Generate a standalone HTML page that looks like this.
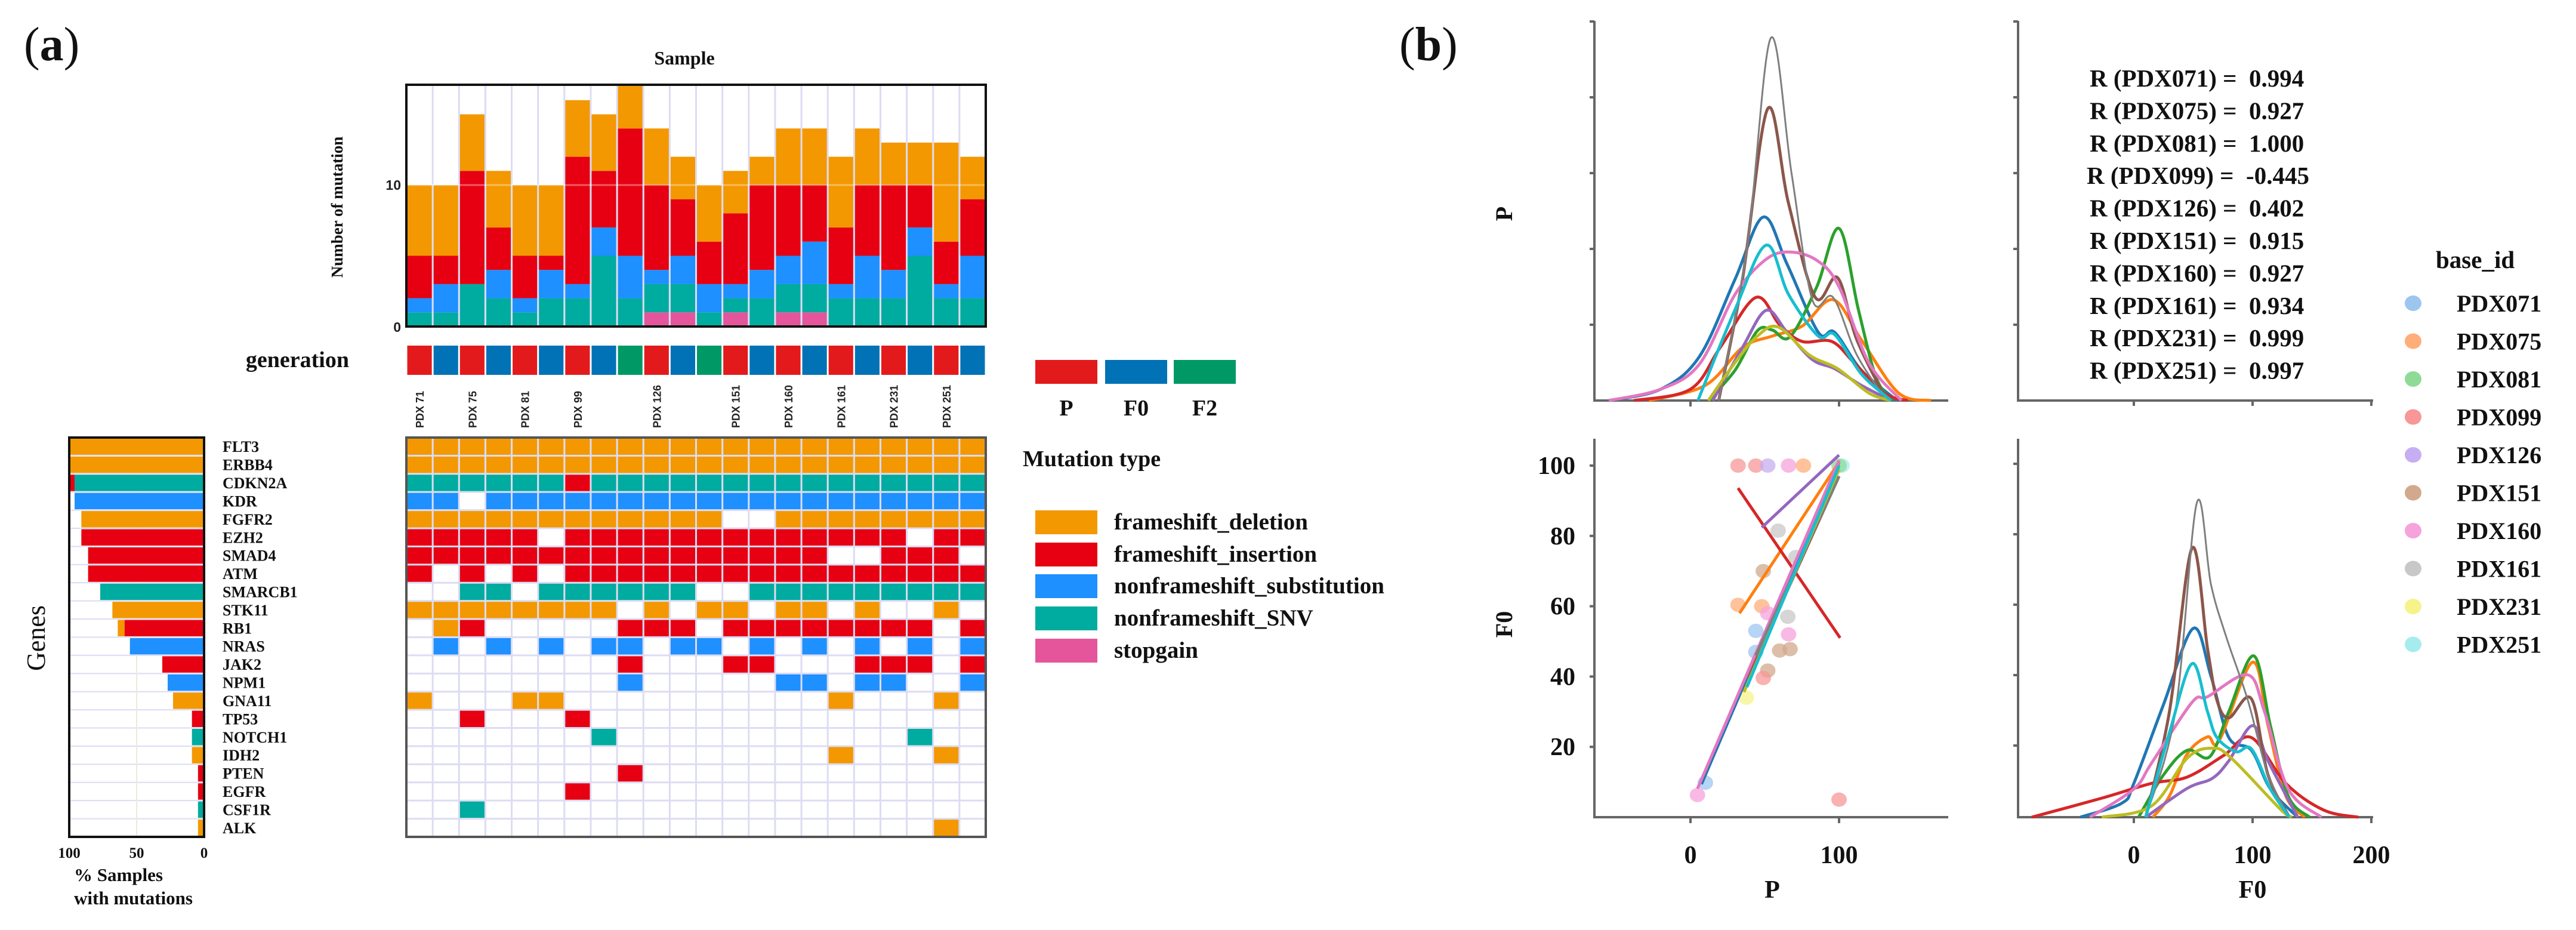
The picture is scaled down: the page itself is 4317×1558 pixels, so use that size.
<!DOCTYPE html>
<html><head><meta charset="utf-8"><style>
html,body{margin:0;padding:0;background:#fff;}
svg{display:block;}
.serif{font-family:"Liberation Serif",serif;font-weight:bold;fill:#111;}
.sans{font-family:"Liberation Sans",sans-serif;font-weight:bold;fill:#222;}
</style></head><body>
<svg id="fig" width="4317" height="1558" viewBox="0 0 4317 1558" xmlns="http://www.w3.org/2000/svg">
<rect x="0" y="0" width="4317" height="1558" fill="#fff"/>
<text x="40" y="101" class="serif" style="font-weight:normal" font-size="80">(<tspan font-weight="bold">a</tspan>)</text>
<text x="2345" y="101" class="serif" style="font-weight:normal" font-size="80">(<tspan font-weight="bold">b</tspan>)</text>
<text x="1147" y="108" class="serif" font-size="32" text-anchor="middle">Sample</text>
<text transform="translate(574,347) rotate(-90)" class="serif" font-size="27" text-anchor="middle">Number of mutation</text>
<text x="672" y="318" class="sans" font-size="23" text-anchor="end">10</text>
<text x="672" y="556" class="sans" font-size="23" text-anchor="end">0</text>
<text x="585" y="615" class="serif" font-size="38" text-anchor="end">generation</text>
<text x="1714" y="781" class="serif" font-size="38">Mutation type</text>
<text transform="translate(75,1069) rotate(-90)" class="serif" font-size="44" text-anchor="middle" style="font-weight:normal">Genes</text>
<text x="124" y="1476" class="serif" font-size="31">% Samples</text>
<text x="124" y="1515" class="serif" font-size="31">with mutations</text>
<g id="gA"></g>
<g id="gB"></g>
</svg>
<script>
// ---------- Panel (a) data ----------
const samples = ["PDX 71","","PDX 75","","PDX 81","","PDX 99","","","PDX 126","","","PDX 151","","PDX 160","","PDX 161","","PDX 231","","PDX 251",""];
const barPink   = [0,0,0,0,0,0,0,0,0,1,1,0,1,0,1,1,0,0,0,0,0,0];
const barTeal   = [1,1,3,2,1,2,2,5,2,2,2,1,1,2,2,2,2,2,2,5,2,2];
const barBlue   = [1,2,0,2,1,2,1,2,3,1,2,2,1,2,2,3,1,3,2,2,1,3];
const barRed    = [3,2,8,3,3,1,9,4,9,6,4,3,5,6,5,4,4,5,6,3,3,4];
const barOrange = [5,5,4,4,5,5,4,4,3,4,3,4,3,2,4,4,5,4,3,3,7,3];
const generation = ["P","F0","P","F0","P","F0","P","F0","F2","P","F0","F2","P","F0","P","F0","P","F0","P","F0","P","F0"];
const genes = ["FLT3","ERBB4","CDKN2A","KDR","FGFR2","EZH2","SMAD4","ATM","SMARCB1","STK11","RB1","NRAS","JAK2","NPM1","GNA11","TP53","NOTCH1","IDH2","PTEN","EGFR","CSF1R","ALK"];
const matrix = [
"OOOOOOOOOOOOOOOOOOOOOO",
"OOOOOOOOOOOOOOOOOOOOOO",
"TTTTTTRTTTTTTTTTTTTTTT",
"BB.BBBBBBBBBBBBBBBBBBB",
"OOOOOOOOOOOO..OOOOOOOO",
"RRRRR.RRRRRRRRRRRRR.RR",
"RRRRRRRRRRRRRRRR..RRR.",
"R.R.R.RRRRRRRRRRRRRRRR",
"..TT.TTTTTT..TTTTTTTTT",
"OOOOOOOO.O.OO.OO.O..O.",
".OR.....RRR.RRRRRRRR.R",
".B.B.B.BB.BB.B.B.B.B.B",
"........R...RR...RRR.R",
"........B.....BB.BB..B",
"O...OO..........O...O.",
"..R...R...............",
".......T...........T..",
"................O...O.",
"........R.............",
"......R...............",
"..T...................",
"....................O."];
const pctMain = [100,100,96,96,91,91,86,86,77,68,59,55,31,27,23,9,9,9,4.5,4.5,4.5,4.5];
const pctMainType = ["O","O","T","B","O","R","R","R","T","O","R","B","R","B","O","R","T","O","R","R","T","O"];
const pctExtra = [0,0,4,0,0,0,0,0,0,0,5,0,0,0,0,0,0,0,0,0,0,0];
const pctExtraType = ["","","R","","","","","","","","O","","","","","","","","","","",""];
const legendTypes = ["frameshift_deletion","frameshift_insertion","nonframeshift_substitution","nonframeshift_SNV","stopgain"];

const MUT = {O:"#f39800",R:"#e60012",B:"#1e90ff",T:"#00ab9f",K:"#e4559b"};
const GEN = {P:"#e31a1c",F0:"#0072b5",F2:"#009966"};
const NS="http://www.w3.org/2000/svg";
function mk(tag, attrs, parent){const e=document.createElementNS(NS,tag);for(const k in attrs)e.setAttribute(k,attrs[k]);parent.appendChild(e);return e;}
const gA=document.getElementById('gA');

// top bar chart
const bx0=681, bx1=1652, by0=142, by1=547, ncol=22, cw=(bx1-bx0)/ncol;
const yB = v => by1 - v*23.7;
const xC = i => bx0 + i*cw;
for(let i=0;i<=ncol;i++){const l=mk('line',{x1:xC(i),x2:xC(i),y1:by0,y2:by1,stroke:'#dcdcf4','stroke-width':3},gA);

}
const stacks=[[barPink,"K"],[barTeal,"T"],[barBlue,"B"],[barRed,"R"],[barOrange,"O"]];
for(let i=0;i<ncol;i++){let base=0;
  for(const [arr,t] of stacks){const v=arr[i]; if(v>0){const r=mk('rect',{x:xC(i)+1.5,y:yB(base+v),width:cw-3,height:yB(base)-yB(base+v),fill:MUT[t]},gA);
    
    }
    base+=v;}}
{const l=mk('line',{x1:bx0,x2:bx1,y1:yB(10),y2:yB(10),stroke:'#ffffff','stroke-opacity':0.35,'stroke-width':3},gA);

}
{const f=mk('rect',{x:bx0,y:by0,width:bx1-bx0,height:by1-by0,fill:'none',stroke:'#111','stroke-width':4},gA);

}

// generation strip
for(let i=0;i<ncol;i++){const r=mk('rect',{x:xC(i)+1.5,y:579,width:cw-3,height:49,fill:GEN[generation[i]]},gA);


if(samples[i]){const t=mk('text',{transform:`translate(${xC(i)+cw/2+7},717) rotate(-90)`,class:'sans','font-size':18},gA);t.textContent=samples[i];

}}
// generation legend
const genKeys=["P","F0","F2"], genLX=[1735,1852,1967];
genKeys.forEach((k,i)=>{const r=mk('rect',{x:genLX[i],y:603,width:104,height:40,fill:GEN[k]},gA);


const t=mk('text',{x:genLX[i]+52,y:696,class:'serif','font-size':38,'text-anchor':'middle'},gA);t.textContent=k;

});

// heatmap
const hy0=733, hy1=1402, rh=(hy1-hy0)/genes.length;
for(let i=0;i<=ncol;i++){const l=mk('line',{x1:xC(i),x2:xC(i),y1:hy0,y2:hy1,stroke:'#dcdcf4','stroke-width':3},gA);

}
for(let r=0;r<=genes.length;r++){const l=mk('line',{x1:bx0,x2:bx1,y1:hy0+r*rh,y2:hy0+r*rh,stroke:'#dcdcf4','stroke-width':3},gA);

}
matrix.forEach((row,r)=>{for(let c=0;c<ncol;c++){const ch=row[c]; if(ch&&ch!=='.'){const e=mk('rect',{x:xC(c)+1.5,y:hy0+r*rh+1.5,width:cw-3,height:rh-3,fill:MUT[ch]},gA);

}}});
{const f=mk('rect',{x:bx0,y:hy0,width:bx1-bx0,height:hy1-hy0,fill:'none',stroke:'#555','stroke-width':4},gA);

}

// left percentage bars
const lx0=116, lx1=342, pscale=(lx1-lx0)/100;
for(let r=0;r<=genes.length;r++){const l=mk('line',{x1:lx0,x2:lx1,y1:hy0+r*rh,y2:hy0+r*rh,stroke:'#dcdcf4','stroke-width':2},gA);

}
{const l=mk('line',{x1:lx1-50*pscale,x2:lx1-50*pscale,y1:hy0,y2:hy1,stroke:'#efe9dc','stroke-width':2},gA);

}
genes.forEach((g,r)=>{const w=pctMain[r]*pscale;
 const b=mk('rect',{x:lx1-w,y:hy0+r*rh+1.5,width:w,height:rh-3,fill:MUT[pctMainType[r]]},gA);
 
 
 if(pctExtra[r]>0){const w2=pctExtra[r]*pscale;const b2=mk('rect',{x:lx1-w-w2,y:hy0+r*rh+1.5,width:w2,height:rh-3,fill:MUT[pctExtraType[r]]},gA);
 
 }
 const t=mk('text',{x:373,y:hy0+r*rh+rh/2+9,class:'serif','font-size':26},gA);t.textContent=g;
 
 });
{const f=mk('rect',{x:lx0,y:hy0,width:lx1-lx0,height:hy1-hy0,fill:'none',stroke:'#111','stroke-width':4},gA);

}
const pctTicks=[100,50,0];
pctTicks.forEach(v=>{const t=mk('text',{x:lx1-v*pscale,y:1437,class:'serif','font-size':25,'text-anchor':'middle'},gA);t.textContent=String(v);

});

// mutation legend
const legY=[855,909,962,1016,1070], legC=["O","R","B","T","K"];
legendTypes.forEach((s,i)=>{const r=mk('rect',{x:1735,y:legY[i],width:104,height:40,fill:MUT[legC[i]]},gA);


const t=mk('text',{x:1867,y:legY[i]+32,class:'serif','font-size':39},gA);t.textContent=s;

});

// ---------- Panel (b) data ----------
const ids = ["PDX071","PDX075","PDX081","PDX099","PDX126","PDX151","PDX160","PDX161","PDX231","PDX251"];
const rValues = ["0.994","0.927","1.000","-0.445","0.402","0.915","0.927","0.934","0.999","0.997"];
const lineColors = ["#1f77b4","#ff7f0e","#2ca02c","#d62728","#9467bd","#8c564b","#e377c2","#7f7f7f","#bcbd22","#17becf"];
const dotColors = ["#9dc6ef","#ffae7a","#8fdb95","#f79797","#c6aef2","#d2a98c","#f6a3dc","#c8c8c8","#f6f38a","#a6ecef"];
const kdeP = [
 [[-55,0],[-20,0.15],[6,0.58],[30,1.6],[49,2.42],[65,1.8],[86,0.9],[97,0.9],[115,0.4],[139,0]],
 [[-28,0],[10,0.2],[35,0.7],[55,0.85],[75,0.98],[96,1.33],[115,0.8],[140,0.1],[162,0]],
 [[12,0],[30,0.4],[45,0.92],[55,0.93],[67,0.84],[85,1.5],[100,2.27],[113,1.2],[125,0.3],[136,0]],
 [[-38,0],[0,0.15],[20,0.7],[44,1.36],[60,1.0],[75,0.78],[95,0.78],[110,0.5],[130,0.1],[146,0]],
 [[15,0],[35,0.7],[51,1.19],[65,0.9],[82,0.54],[97,0.42],[115,0.2],[135,0]],
 [[19,0],[35,1.6],[52,3.85],[66,2.6],[84,1.36],[99,1.62],[112,0.8],[132,0]],
 [[-55,0],[-20,0.15],[6,0.48],[30,1.4],[50,1.85],[66,1.96],[85,1.85],[100,1.5],[120,0.5],[142,0]],
 [[19,0],[38,2.0],[54,4.78],[68,3.0],[82,1.33],[96,1.36],[112,0.6],[132,0]],
 [[12,0],[30,0.5],[45,0.85],[59,0.97],[80,0.6],[99,0.42],[120,0.1],[135,0]],
 [[5,0],[30,1.2],[51,2.05],[66,1.4],[86,0.85],[97,0.87],[115,0.35],[135,0]]];
const kdeF0 = [
 [[-45,0],[-10,0.2],[0,0.48],[25,1.6],[50,2.68],[65,2.0],[80,1.13],[99,0.95],[115,0.4],[138,0]],
 [[16,0],[30,0.3],[45,0.9],[62,1.14],[72,1.09],[100,2.2],[113,1.3],[128,0.3],[144,0]],
 [[4,0],[25,0.6],[45,0.95],[64,0.86],[80,1.5],[101,2.29],[115,1.3],[130,0.3],[148,0]],
 [[-86,0],[-27,0.27],[15,0.48],[45,0.57],[76,0.88],[99,1.13],[128,0.48],[160,0.1],[189,0]],
 [[10,0],[45,0.41],[66,0.55],[80,0.8],[100,1.3],[113,0.8],[138,0]],
 [[10,0],[30,1.5],[49,3.82],[62,2.4],[70,1.66],[80,1.41],[99,1.68],[113,0.6],[131,0]],
 [[-37,0],[0,0.4],[15,0.77],[49,1.63],[62,1.71],[96,2.02],[110,1.5],[130,0.4],[158,0]],
 [[10,0],[35,1.5],[53,4.46],[65,3.3],[78,2.55],[96,1.66],[113,0.6],[131,0]],
 [[-27,0],[15,0.16],[45,0.84],[66,0.98],[82,0.84],[123,0.12],[133,0]],
 [[10,0],[30,1.2],[49,2.18],[62,1.5],[70,1.13],[86,0.93],[99,0.97],[115,0.4],[131,0]]];
const scatterP   = [32,44,52,66,76,59,71,49,32,48,65.5,52,44,66,60,67,44,52,49,37.6,10,4.7,100,102,100];
const scatterF0  = [100,100,100,100,100,81.5,74,70,60.4,60,57,58,53,52,47.4,47.8,47,41.7,39.6,34,9.8,6.3,5,100,100];
const scatterIdx = [3,3,4,6,1,7,7,5,1,1,7,6,0,6,5,5,0,5,3,8,0,6,3,9,2];
const fitX1 = [7.4,33,36,32,48,39,4.7,44,36,38];
const fitY1 = [9.4,58,35.6,93.6,82.4,40,8.1,46,35.6,37];
const fitX2 = [100,100,100,100.7,100,100,100,100,100,100];
const fitY2 = [101,101,99,51,103,97,101.5,97,99,100];
const pTicks=[0,100], f0yTicks=[20,40,60,80,100], f0xTicks=[0,100,200];

const gB=document.getElementById('gB');
// axis functions
const xP = v => 2833 + v*2.49;
const yDensP = d => 671 - d*127;
const xF0 = v => 3576 + v*1.99;
const yDensF0 = d => 1369 - d*118;
const yF0 = v => 1369 - v*5.89;

function smoothPath(pts){let d=`M${pts[0][0]},${pts[0][1]}`;
 for(let i=0;i<pts.length-1;i++){const p0=pts[i-1]||pts[i],p1=pts[i],p2=pts[i+1],p3=pts[i+2]||p2;
  const c1x=p1[0]+(p2[0]-p0[0])/6,c1y=p1[1]+(p2[1]-p0[1])/6,c2x=p2[0]-(p3[0]-p1[0])/6,c2y=p2[1]-(p3[1]-p1[1])/6;
  d+=` C${c1x},${Math.min(c1y,pts[0][1]>0?99999:0)===0?c1y:c1y},${c2x},${c2y},${p2[0]},${p2[1]}`;}
 return d;}
function axes(x0,y0,x1,y1,name){const p=mk('path',{d:`M${x0},${y0} L${x0},${y1} L${x1},${y1}`,fill:'none',stroke:'#666','stroke-width':4},gB);
 
 }
function tick(x1,y1,x2,y2){const l=mk('line',{x1,y1,x2,y2,stroke:'#666','stroke-width':4},gB);
 
 }
function label(x,y,s,anchor,size,name){const t=mk('text',{x,y,class:'serif','font-size':size,'text-anchor':anchor},gB);t.textContent=s;
 
 return t;}

// axes
axes(2672,35,3265,671,'axes-p-p');
axes(3382,35,3977,671,'axes-f0-p');
axes(2672,735,3265,1369,'axes-p-f0');
axes(3382,735,3977,1369,'axes-f0-f0');
[1,2,3,4,5].forEach(k=>{tick(2664,yDensP(k),2672,yDensP(k));tick(3374,yDensP(k),3382,yDensP(k));});
[1,2,3,4,5].forEach(k=>{tick(3374,yDensF0(k)-2,3382,yDensF0(k)-2);});
pTicks.forEach(v=>{tick(xP(v),671,xP(v),681);tick(xP(v),1369,xP(v),1379);
 label(xP(v),1446,String(v),'middle',42,'x-tick-label-p');});
f0xTicks.forEach(v=>{tick(xF0(v),670,xF0(v),680);tick(xF0(v),1369,xF0(v),1379);
 label(xF0(v),1446,String(v),'middle',42,'x-tick-label-f0');});
f0yTicks.forEach(v=>{tick(2664,yF0(v),2672,yF0(v));
 label(2640,yF0(v)+14,String(v),'end',42,'y-tick-label-f0');});
{const t=label(0,0,'P','middle',40,'y-axis-title-p');t.setAttribute('transform','translate(2534,358) rotate(-90)');}
{const t=label(0,0,'F0','middle',40,'y-axis-title-f0');t.setAttribute('transform','translate(2534,1046) rotate(-90)');}
label(2970,1504,'P','middle',42,'x-axis-title-p');
label(3775,1504,'F0','middle',42,'x-axis-title-f0');

// KDE curves
ids.forEach((id,i)=>{
 const p1=mk('path',{d:smoothPath(kdeP[i].map(q=>[xP(q[0]),yDensP(q[1])])),fill:'none',stroke:lineColors[i],'stroke-width':(i===7?3:5),'stroke-linejoin':'round'},gB);
 
 
 const p2=mk('path',{d:smoothPath(kdeF0[i].map(q=>[xF0(q[0]),yDensF0(q[1])])),fill:'none',stroke:lineColors[i],'stroke-width':(i===7?3:5),'stroke-linejoin':'round'},gB);
 
 });
// scatter
scatterP.forEach((v,i)=>{const c=mk('ellipse',{cx:xP(v),cy:yF0(scatterF0[i]),rx:13,ry:12,fill:dotColors[scatterIdx[i]],'fill-opacity':0.75},gB);
 
 });
// fit lines
ids.forEach((id,i)=>{const l=mk('line',{x1:xP(fitX1[i]),y1:yF0(fitY1[i]),x2:xP(fitX2[i]),y2:yF0(fitY2[i]),stroke:lineColors[i],'stroke-width':5},gB);
 
 });
// R text
ids.forEach((id,i)=>{const t=mk('text',{x:(i===3?3497:3502),y:145+i*54.4,class:'serif','font-size':41,'xml:space':'preserve'},gB);
 t.style.whiteSpace='pre';
 t.textContent=`R (${id}) =  ${rValues[i]}`;
 
 });
// legend
label(4082,449,'base_id','start',41,'legend-title');
ids.forEach((id,i)=>{const y=508+i*63.5;
 const c=mk('ellipse',{cx:4044,cy:y,rx:14,ry:13,fill:dotColors[i]},gB);
 
 
 label(4117,y+14,id,'start',40,'legend-entry');});
</script>
</body></html>
